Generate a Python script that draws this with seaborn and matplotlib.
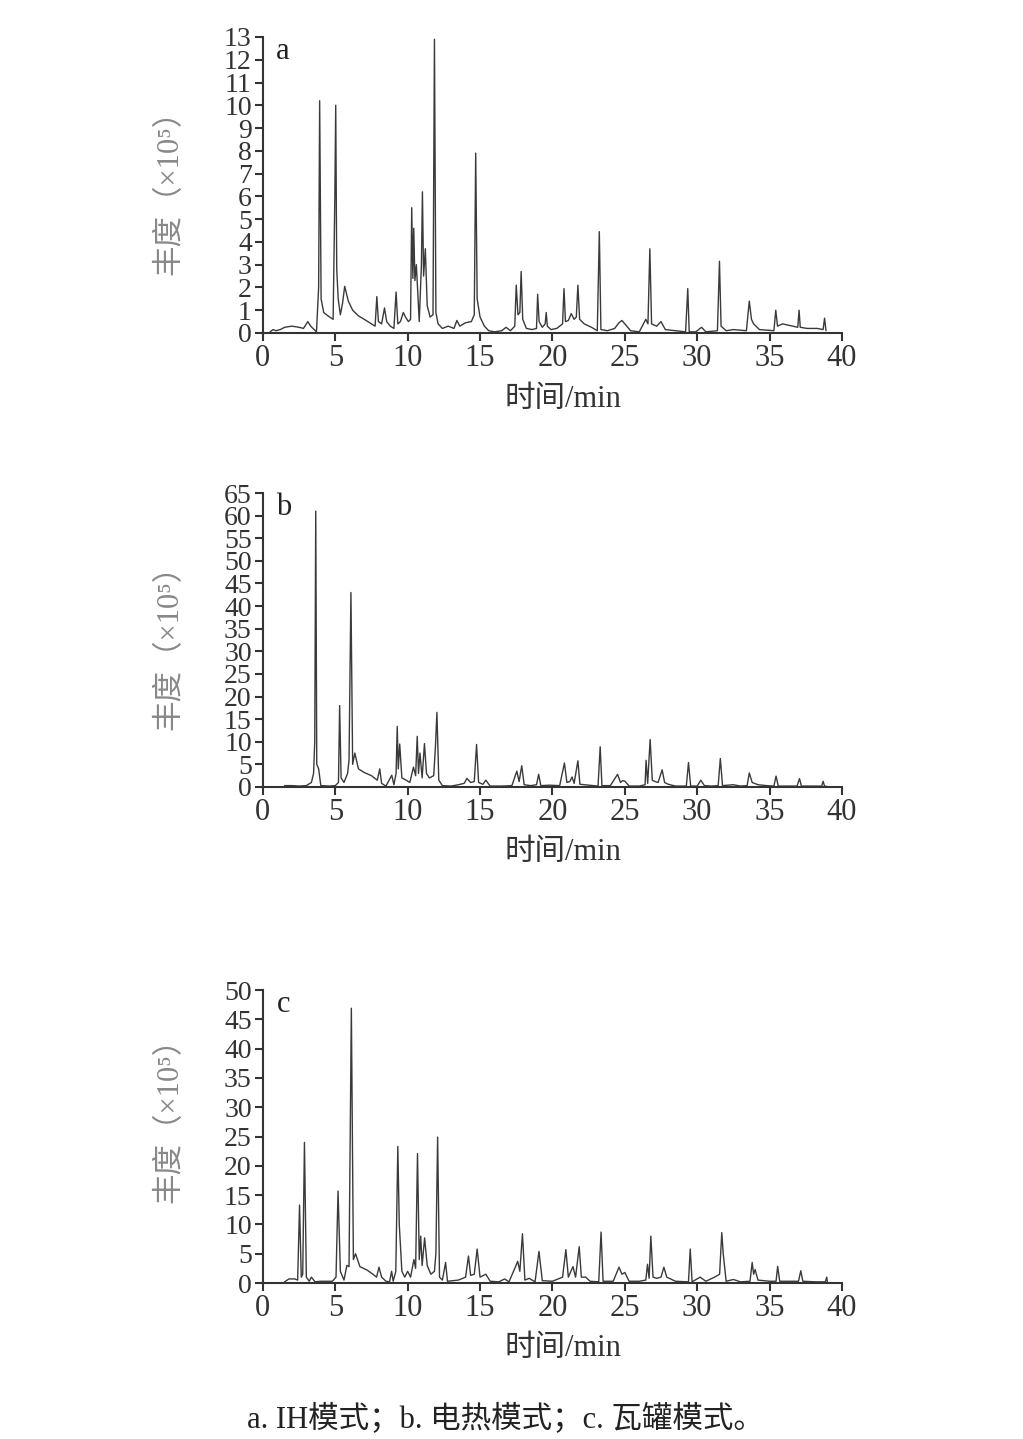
import numpy as np
import pandas as pd
import matplotlib
matplotlib.use('Agg')
import matplotlib.pyplot as plt
import seaborn as sns

sns.set_theme(style='ticks')
plt.rcParams['font.family'] = ['Liberation Serif', 'Noto Sans CJK SC', 'DejaVu Sans']
plt.rcParams['axes.unicode_minus'] = False

# chromatogram a (IH mode), time in min, abundance x10^5
time_a = [0.5, 0.7, 0.9, 1.2, 1.5, 2.0, 2.5, 2.8, 3.1, 3.3,
          3.7, 3.85, 3.92, 4.02, 4.2, 4.5, 4.85, 4.97, 5.03, 5.1,
          5.2, 5.35, 5.5, 5.65, 5.9, 6.2, 6.6, 7.0, 7.5, 7.75,
          7.87, 7.98, 8.2, 8.4, 8.55, 8.8, 9.05, 9.2, 9.32, 9.5,
          9.7, 9.85, 10.05, 10.2, 10.28, 10.36, 10.42, 10.5, 10.6, 10.8,
          10.95, 11.02, 11.1, 11.22, 11.35, 11.55, 11.75, 11.85, 11.95, 12.1,
          12.4, 12.8, 13.2, 13.4, 13.6, 14.0, 14.4, 14.6, 14.7, 14.8,
          15.0, 15.3, 15.6, 16.0, 16.5, 16.8, 17.1, 17.4, 17.5, 17.62,
          17.75, 17.84, 17.95, 18.2, 18.6, 18.9, 18.98, 19.08, 19.3, 19.5,
          19.57, 19.65, 19.9, 20.3, 20.7, 20.8, 20.9, 21.1, 21.3, 21.5,
          21.65, 21.76, 21.88, 22.2, 22.7, 23.1, 23.24, 23.35, 23.8, 24.3,
          24.6, 24.8, 25.0, 25.4, 26.0, 26.45, 26.6, 26.73, 26.85, 27.2,
          27.5, 27.8, 28.5, 29.2, 29.35, 29.45, 29.9, 30.3, 30.6, 31.4,
          31.54, 31.65, 32.0, 32.5, 33.4, 33.6, 33.75, 33.9, 34.3, 35.3,
          35.43, 35.55, 35.9, 36.6, 36.95, 37.04, 37.12, 37.6, 38.3, 38.7,
          38.8, 38.9]
abund_a = [0.05, 0.15, 0.1, 0.15, 0.25, 0.3, 0.25, 0.2, 0.5, 0.3,
           0.05, 2.0, 10.2, 1.5, 0.9, 0.75, 0.6, 6.0, 10.0, 2.8,
           1.5, 0.8, 1.3, 2.05, 1.4, 1.0, 0.75, 0.6, 0.4, 0.3,
           1.6, 0.5, 0.4, 1.1, 0.5, 0.3, 0.2, 1.8, 0.4, 0.5,
           0.9, 0.7, 0.5, 0.6, 5.5, 2.4, 4.6, 2.3, 3.0, 0.5,
           3.0, 6.2, 2.5, 3.7, 1.2, 0.7, 0.8, 12.9, 0.9, 0.4,
           0.2, 0.3, 0.2, 0.55, 0.3, 0.45, 0.5, 0.8, 7.9, 1.5,
           0.7, 0.3, 0.1, 0.05, 0.1, 0.25, 0.1, 0.3, 2.1, 0.8,
           0.9, 2.7, 0.6, 0.2, 0.15, 0.2, 1.7, 0.5, 0.25, 0.4,
           0.9, 0.3, 0.15, 0.2, 0.4, 1.95, 0.5, 0.55, 0.85, 0.6,
           0.7, 2.1, 0.6, 0.4, 0.25, 0.1, 4.45, 0.15, 0.1, 0.2,
           0.45, 0.55, 0.4, 0.1, 0.05, 0.6, 0.4, 3.7, 0.4, 0.3,
           0.5, 0.15, 0.1, 0.05, 1.95, 0.05, 0.05, 0.25, 0.05, 0.1,
           3.15, 0.3, 0.1, 0.15, 0.1, 1.4, 0.6, 0.4, 0.15, 0.1,
           1.0, 0.3, 0.4, 0.3, 0.25, 1.0, 0.25, 0.2, 0.2, 0.15,
           0.65, 0.1]

# chromatogram b (electric heating mode)
time_b = [1.5, 2.0, 2.5, 3.0, 3.35, 3.5, 3.58, 3.65, 3.72, 3.85,
          4.0, 4.6, 5.0, 5.22, 5.3, 5.4, 5.6, 5.85, 5.95, 6.08,
          6.2, 6.35, 6.6, 7.0, 7.5, 7.9, 8.07, 8.2, 8.5, 8.9,
          9.05, 9.2, 9.28, 9.35, 9.45, 9.6, 9.9, 10.15, 10.4, 10.55,
          10.66, 10.75, 10.85, 11.0, 11.16, 11.3, 11.5, 11.8, 11.92, 12.02,
          12.15, 12.4, 13.0, 13.5, 13.9, 14.1, 14.35, 14.6, 14.76, 14.9,
          15.2, 15.4, 15.7, 16.5, 17.2, 17.54, 17.7, 17.88, 18.05, 18.5,
          18.9, 19.05, 19.2, 19.8, 20.5, 20.83, 21.0, 21.2, 21.36, 21.5,
          21.76, 21.9, 22.5, 23.15, 23.3, 23.42, 24.0, 24.5, 24.7, 24.85,
          25.0, 25.3, 26.0, 26.4, 26.47, 26.58, 26.75, 26.9, 27.1, 27.3,
          27.58, 27.75, 28.0, 28.5, 29.25, 29.4, 29.55, 30.0, 30.25, 30.5,
          31.0, 31.45, 31.6, 31.75, 32.5, 33.0, 33.45, 33.6, 33.8, 34.2,
          34.8, 35.3, 35.45, 35.6, 36.3, 36.9, 37.07, 37.2, 38.0, 38.6,
          38.7, 38.8, 39.0]
abund_b = [0.3, 0.3, 0.2, 0.3, 1.0, 3.0, 10.0, 61.0, 5.0, 4.0,
           0.3, 0.2, 0.3, 1.0, 18.0, 2.0, 1.0, 3.0, 6.0, 43.0,
           5.0, 7.5, 4.0, 3.2, 2.5, 1.5, 4.0, 0.8, 0.2, 2.6,
           0.5, 3.0, 13.4, 4.0, 9.5, 2.0, 1.5, 1.0, 4.4, 2.5,
           11.2, 3.0, 7.5, 2.0, 9.6, 3.0, 2.0, 2.5, 9.0, 16.5,
           1.5, 0.3, 0.2, 0.5, 0.8, 1.9, 1.0, 1.2, 9.4, 1.0,
           0.6, 1.5, 0.2, 0.2, 0.3, 3.5, 1.2, 4.7, 0.5, 0.3,
           0.5, 2.8, 0.3, 0.4, 0.3, 5.3, 1.0, 1.2, 2.2, 0.8,
           5.8, 0.6, 0.4, 0.2, 8.9, 0.3, 0.3, 2.8, 1.0, 1.4,
           1.3, 0.2, 0.2, 0.5, 5.9, 0.8, 10.5, 1.5, 1.2, 1.0,
           3.8, 1.0, 0.6, 0.2, 0.2, 5.4, 0.2, 0.2, 1.5, 0.3,
           0.2, 0.3, 6.3, 0.3, 0.5, 0.2, 0.3, 3.1, 1.0, 0.5,
           0.3, 0.2, 2.4, 0.2, 0.2, 0.2, 1.85, 0.2, 0.2, 0.2,
           1.25, 0.2, 0.1]

# chromatogram c (clay pot mode)
time_c = [1.5, 1.8, 2.2, 2.4, 2.53, 2.65, 2.75, 2.87, 3.0, 3.2,
          3.35, 3.6, 4.0, 4.8, 5.05, 5.19, 5.35, 5.6, 5.8, 5.95,
          6.11, 6.25, 6.4, 6.7, 7.2, 7.6, 7.85, 8.02, 8.2, 8.5,
          8.75, 8.89, 9.0, 9.18, 9.32, 9.42, 9.6, 9.8, 10.0, 10.2,
          10.43, 10.55, 10.68, 10.8, 10.9, 11.0, 11.17, 11.35, 11.6, 11.85,
          11.95, 12.07, 12.2, 12.4, 12.62, 12.75, 13.5, 14.0, 14.2, 14.35,
          14.6, 14.8, 15.0, 15.4, 15.7, 16.3, 16.7, 17.0, 17.4, 17.6,
          17.75, 17.93, 18.1, 18.4, 18.8, 19.07, 19.3, 20.0, 20.7, 20.93,
          21.1, 21.42, 21.6, 21.85, 22.0, 22.3, 22.6, 23.2, 23.36, 23.5,
          24.2, 24.6, 24.8, 25.0, 25.3, 26.0, 26.45, 26.57, 26.68, 26.8,
          26.95, 27.2, 27.5, 27.7, 27.9, 28.5, 29.4, 29.52, 29.65, 30.2,
          30.6, 31.2, 31.55, 31.7, 31.8, 32.0, 32.5, 33.0, 33.65, 33.8,
          33.9, 34.0, 34.2, 35.0, 35.45, 35.56, 35.7, 36.4, 37.0, 37.16,
          37.3, 38.2, 38.85, 38.95, 39.0]
abund_c = [0.2, 0.7, 0.7, 0.5, 13.3, 1.0, 1.5, 24.0, 1.0, 0.3,
           1.0, 0.2, 0.3, 0.3, 1.0, 15.7, 2.0, 0.5, 3.0, 2.8,
           46.9, 4.0, 5.0, 2.8, 2.2, 1.5, 1.0, 2.7, 1.0, 0.3,
           0.2, 2.0, 0.3, 2.0, 23.3, 10.0, 2.0, 1.0, 2.0, 1.0,
           4.0, 2.5, 22.1, 4.0, 8.0, 3.0, 7.7, 3.0, 1.5, 2.0,
           5.0, 24.9, 1.0, 0.5, 3.5, 0.3, 0.5, 1.0, 4.6, 1.3,
           1.5, 5.8, 1.0, 1.5, 0.3, 0.2, 0.7, 0.2, 2.5, 3.7,
           2.0, 8.4, 0.5, 0.8, 0.2, 5.4, 0.4, 0.3, 1.0, 5.7,
           1.0, 2.8, 1.0, 6.2, 1.0, 1.0, 0.3, 0.2, 8.7, 0.3,
           0.3, 2.7, 1.5, 1.8, 0.3, 0.3, 0.5, 3.2, 0.8, 8.0,
           1.0, 0.8, 1.0, 2.7, 1.0, 0.3, 0.2, 5.8, 0.2, 1.0,
           0.3, 1.0, 1.5, 8.6, 5.0, 0.3, 0.6, 0.2, 0.3, 3.5,
           1.5, 2.3, 0.5, 0.3, 0.3, 2.85, 0.3, 0.3, 0.3, 2.1,
           0.3, 0.2, 0.2, 1.0, 0.1]

panel_letters = ['a', 'b', 'c']
y_max = [13, 65, 50]
y_step = [1, 5, 5]
x_ticks = [0, 5, 10, 15, 20, 25, 30, 35, 40]
caption = 'a. IH模式；b. 电热模式；c. 瓦罐模式。'

panels = [(time_a, abund_a), (time_b, abund_b), (time_c, abund_c)]
rects = [[0.257, 0.7686, 0.566, 0.2057],
         [0.257, 0.4531, 0.566, 0.2043],
         [0.257, 0.1084, 0.566, 0.2036]]
ylab_y = [0.5, 0.5, 0.58]

fig = plt.figure(figsize=(10.23, 14.39), dpi=100)
fs = 22
for i, (t, v) in enumerate(panels):
    ax = fig.add_axes(rects[i])
    df = pd.DataFrame({'time': t, 'abund': v})
    sns.lineplot(data=df, x='time', y='abund', ax=ax, color='#3a3a3a',
                 linewidth=1.0, estimator=None, sort=False)
    ax.set_xlim(0, 40)
    ax.set_ylim(0, y_max[i])
    ax.set_xticks(x_ticks)
    ax.set_yticks(np.arange(0, y_max[i] + 1, y_step[i]))
    ax.tick_params(direction='out', length=6, width=1.5,
                   colors='#333333', pad=2)
    ax.tick_params(axis='x', labelsize=fs)
    ax.tick_params(axis='y', labelsize=20)
    for side in ['top', 'right']:
        ax.spines[side].set_visible(False)
    for side in ['left', 'bottom']:
        ax.spines[side].set_linewidth(1.5)
        ax.spines[side].set_color('#333333')
    ax.set_xlabel('时间/min', fontsize=fs, color='#333333')
    ax.xaxis.set_label_coords(0.518, -0.175)
    ax.set_ylabel('丰度（×10⁵）', fontsize=fs, color='#888888')
    ax.yaxis.set_label_coords(-0.135, ylab_y[i])
    ax.text(0.035, 0.95, panel_letters[i], transform=ax.transAxes,
            fontsize=fs, color='#222222', va='center', ha='center')

fig.text(0.494, 0.0135, caption, fontsize=fs, ha='center', va='center',
         color='#222222')
fig.savefig('out.png', dpi=100, facecolor='white')
